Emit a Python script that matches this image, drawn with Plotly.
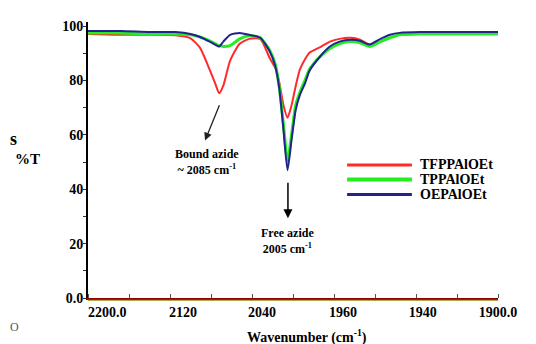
import plotly.graph_objects as go

# Wavenumber (cm-1) sample positions
wavenumber = [2200, 2176, 2155, 2136, 2125, 2118, 2111, 2107, 2104, 2101, 2096, 2089,
              2082, 2074, 2067, 2063, 2060, 2057, 2054, 2051, 2048, 2045, 2041, 2038,
              2030, 2023, 2016, 2008, 2001, 1994, 1986, 1979, 1972, 1957, 1935, 1913, 1900]

t_tfpp = [97.1, 96.8, 96.8, 96.6, 95.5, 92.0, 84.0, 79.0, 75.3, 78.1, 87.3, 93.5,
          95.3, 95.3, 88.2, 84.6, 79.2, 71.0, 66.3, 71.0, 78.0, 84.0, 88.0, 90.2,
          92.3, 94.3, 95.3, 95.7, 95.0, 93.2, 94.3, 95.7, 96.8, 97.1, 97.1, 97.1, 97.1]

t_tpp = [97.5, 97.5, 97.1, 97.1, 96.8, 96.0, 94.6, 93.5, 92.8, 92.5, 92.8, 95.3,
         96.4, 95.7, 91.0, 86.0, 77.4, 63.8, 50.2, 60.2, 71.0, 75.6, 80.3, 84.0,
         88.9, 91.8, 93.5, 94.3, 93.9, 92.5, 94.3, 95.7, 96.8, 97.1, 97.1, 97.1, 97.1]

t_oep = [98.2, 98.2, 97.8, 97.8, 97.1, 96.0, 94.3, 93.2, 92.5, 94.3, 96.8, 97.5,
         96.8, 95.7, 90.7, 85.3, 77.0, 62.0, 47.0, 58.4, 69.2, 74.6, 79.2, 83.5,
         88.9, 92.5, 94.3, 95.0, 94.6, 93.2, 95.3, 96.8, 97.5, 97.8, 97.8, 97.8, 97.8]

series_names = ["TFPPAlOEt", "TPPAlOEt", "OEPAlOEt"]
series_colors = ["#FF2A2A", "#22EE22", "#23238F"]
series_widths = [2, 3, 2]

x_tick_vals = [2186, 2130.5, 2072.7, 2013.4, 1955, 1900]
x_tick_text = ["2200.0", "2120", "2040", "1960", "1940", "1900.0"]
y_tick_vals = [0, 20, 40, 60, 80, 100]
y_tick_text = ["0.0", "20", "40", "60", "80", "100"]

FONT = "'Liberation Serif', 'Times New Roman', 'DejaVu Serif', serif"

fig = go.Figure()
for name, ys, col, w in zip(series_names, [t_tfpp, t_tpp, t_oep], series_colors, series_widths):
    fig.add_trace(go.Scatter(x=wavenumber, y=ys, mode="lines", name=name,
                             line=dict(color=col, width=w, shape="spline", smoothing=0.6),
                             showlegend=False))

fig.update_layout(
    width=528, height=336,
    margin=dict(l=80, r=38, t=11, b=46),
    paper_bgcolor="white", plot_bgcolor="white",
    font=dict(family=FONT, color="black"),
    xaxis=dict(range=[2200, 1900], showgrid=False, zeroline=False,
               tickvals=x_tick_vals, ticktext=x_tick_text, ticks="",
               tickfont=dict(family=FONT, size=14, color="black", weight="bold"),
               showline=True, linecolor="#8B0000", linewidth=2,
               minor=dict(tickvals=[2200 - 30 * i for i in range(11)], ticks="inside",
                          ticklen=4, tickcolor="#555555", tickwidth=1, showgrid=False)),
    yaxis=dict(range=[0, 101.5], showgrid=False, zeroline=False,
               tickvals=y_tick_vals, ticktext=y_tick_text, ticks="",
               tickfont=dict(family=FONT, size=14, color="black", weight="bold"),
               showline=True, linecolor="black", linewidth=2,
               minor=dict(tickvals=[10 * i for i in range(11)], ticks="outside",
                          ticklen=3, tickcolor="#333333", tickwidth=1, showgrid=False)),
)

# olive line just under the x axis
fig.add_shape(type="line", xref="paper", yref="paper", x0=0, x1=1, y0=-0.008, y1=-0.008,
              line=dict(color="#8A8A00", width=1))

# manual legend
leg_y = [0.482, 0.429, 0.375]
for name, col, w, yy in zip(series_names, series_colors, series_widths, leg_y):
    fig.add_shape(type="line", xref="paper", yref="paper", x0=0.632, x1=0.790, y0=yy, y1=yy,
                  line=dict(color=col, width=w + 1))
    fig.add_annotation(xref="paper", yref="paper", x=0.805, y=yy, text=name, showarrow=False,
                       xanchor="left", yanchor="middle",
                       font=dict(family=FONT, size=14, color="black", weight="bold"))

# arrows
fig.add_annotation(x=2114.4, y=57.9, ax=2103.4, ay=71.4, axref="x", ayref="y",
                   text="", showarrow=True, arrowhead=2, arrowsize=1.2, arrowwidth=1.3,
                   arrowcolor="#222222")
fig.add_annotation(x=2053.7, y=29.3, ax=2053.7, ay=42.9, axref="x", ayref="y",
                   text="", showarrow=True, arrowhead=2, arrowsize=1.2, arrowwidth=1.5,
                   arrowcolor="black")

fig.add_annotation(x=2112.8, y=50.0, text="Bound azide<br>~ 2085 cm<sup>-1</sup>",
                   showarrow=False, font=dict(family=FONT, size=12, color="black", weight="bold"))
fig.add_annotation(x=2053.7, y=21.0, text="Free azide<br>2005 cm<sup>-1</sup>",
                   showarrow=False, font=dict(family=FONT, size=12, color="black", weight="bold"))

# axis titles and stray glyphs
fig.add_annotation(xref="paper", yref="paper", x=-0.183, y=0.504, text="%T", showarrow=False,
                   xanchor="left",
                   font=dict(family=FONT, size=15, color="black", weight="bold"))
fig.add_annotation(xref="paper", yref="paper", x=-0.1951, y=0.575, text="s", showarrow=False,
                   xanchor="left", font=dict(family=FONT, size=18, color="black", weight="bold"))
fig.add_annotation(xref="paper", yref="paper", x=-0.1951, y=-0.139, text="O", showarrow=False,
                   xanchor="left", font=dict(family=FONT, size=12, color="#555555"))
fig.add_annotation(xref="paper", yref="paper", x=0.534, y=-0.14,
                   text="Wavenumber (cm<sup>-1</sup>)", showarrow=False, yanchor="middle",
                   font=dict(family=FONT, size=14, color="black", weight="bold"))

fig.write_html("out.html")
